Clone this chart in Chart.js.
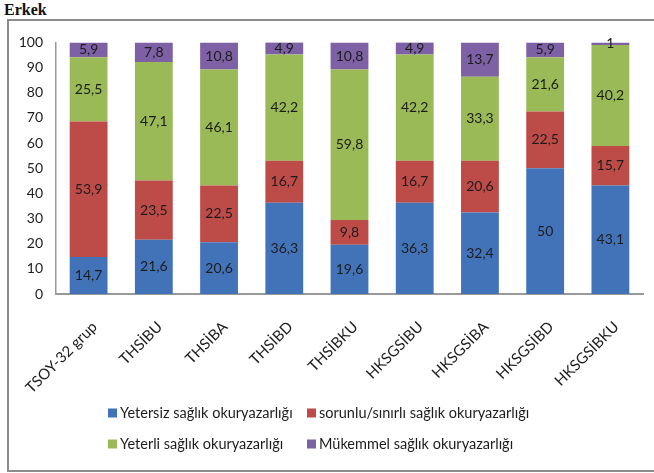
<!DOCTYPE html>
<html>
<head>
<meta charset="utf-8">
<script src="https://cdn.jsdelivr.net/npm/chart.js@4/dist/chart.umd.min.js"></script>
<style>
  html, body { margin: 0; padding: 0; background: #fff; }
  body { width: 654px; height: 473px; position: relative; overflow: hidden; }
  #title { position: absolute; left: 4px; top: 1px; font-family: "Liberation Serif", "DejaVu Serif", serif; font-weight: bold; font-size: 16px; color: #111; }
  #frame { position: absolute; left: 7px; top: 19px; width: 670px; height: 449px; border: 2px solid #8c8c8c; }
  #wrap { position: absolute; left: 9px; top: 21px; width: 645px; height: 449px; }
</style>
</head>
<body>
<div id="title">Erkek</div>
<div id="frame"></div>
<div id="wrap"><canvas id="c" width="645" height="449"></canvas></div>
<script>
const categories = ["TSOY-32 grup", "THSİBU", "THSİBA", "THSİBD", "THSİBKU", "HKSGSİBU", "HKSGSİBA", "HKSGSİBD", "HKSGSİBKU"];
const seriesNames = ["Yetersiz sağlık okuryazarlığı", "sorunlu/sınırlı sağlık okuryazarlığı", "Yeterli sağlık okuryazarlığı", "Mükemmel sağlık okuryazarlığı"];
const yetersiz = [14.7, 21.6, 20.6, 36.3, 19.6, 36.3, 32.4, 50, 43.1];
const sorunlu  = [53.9, 23.5, 22.5, 16.7, 9.8, 16.7, 20.6, 22.5, 15.7];
const yeterli  = [25.5, 47.1, 46.1, 42.2, 59.8, 42.2, 33.3, 21.6, 40.2];
const mukemmel = [5.9, 7.8, 10.8, 4.9, 10.8, 4.9, 13.7, 5.9, 1];
const yTicks = [0, 10, 20, 30, 40, 50, 60, 70, 80, 90, 100];
const colors = ["#4273b9", "#bd4b48", "#99ba56", "#7e60a4"];

const FONT = "Lato, 'Open Sans', sans-serif";

const dataLabels = {
  id: "dataLabels",
  afterDatasetsDraw(chart) {
    const ctx = chart.ctx;
    ctx.save();
    ctx.font = "14px " + FONT;
    ctx.fillStyle = "#1c1c1c";
    ctx.textAlign = "center";
    ctx.textBaseline = "middle";
    chart.data.datasets.forEach((ds, di) => {
      const meta = chart.getDatasetMeta(di);
      meta.data.forEach((bar, i) => {
        const v = ds.data[i];
        const yMid = (bar.y + bar.base) / 2;
        ctx.fillText(String(v).replace(".", ","), bar.x, yMid);
      });
    });
    ctx.restore();
  }
};

const customLegend = {
  id: "customLegend",
  afterDraw(chart) {
    const ctx = chart.ctx;
    ctx.save();
    ctx.font = "14.5px " + FONT;
    ctx.textBaseline = "middle";
    ctx.textAlign = "left";
    const colX = [99, 298];
    const rowY = [392, 423];
    chart.data.datasets.forEach((ds, di) => {
      const x = colX[di % 2];
      const y = rowY[Math.floor(di / 2)];
      ctx.fillStyle = ds.backgroundColor;
      ctx.fillRect(x, y - 4.5, 9, 9);
      ctx.fillStyle = "#1c1c1c";
      ctx.fillText(ds.label, x + 12, y);
    });
    ctx.restore();
  }
};

new Chart(document.getElementById("c"), {
  type: "bar",
  data: {
    labels: categories,
    datasets: [
      { label: seriesNames[0], data: yetersiz, backgroundColor: colors[0] },
      { label: seriesNames[1], data: sorunlu, backgroundColor: colors[1] },
      { label: seriesNames[2], data: yeterli, backgroundColor: colors[2] },
      { label: seriesNames[3], data: mukemmel, backgroundColor: colors[3] }
    ]
  },
  options: {
    responsive: false,
    animation: false,
    layout: { padding: { left: 0, right: 11, top: 16, bottom: 0 } },
    datasets: { bar: { barPercentage: 0.58, categoryPercentage: 1.0 } },
    plugins: { legend: { display: false }, tooltip: { enabled: false }, title: { display: false } },
    scales: {
      x: {
        stacked: true,
        grid: { display: false, drawTicks: false },
        border: { display: true, color: "#999", width: 2 },
        ticks: { color: "#1c1c1c", font: { family: FONT, size: 15 }, minRotation: 45, maxRotation: 45, padding: 24, labelOffset: 6 },
        afterFit(scale) { scale.height = 176; scale.paddingLeft = 0; scale.paddingRight = 0; }
      },
      y: {
        stacked: true,
        min: 0, max: 100,
        afterBuildTicks(scale) { scale.ticks = yTicks.map(v => ({ value: v })); },
        grid: { display: false, drawTicks: false },
        border: { display: true, color: "#999", width: 1.5 },
        ticks: { color: "#1c1c1c", font: { family: FONT, size: 14 }, padding: 13 },
        afterFit(scale) { scale.width = 47; }
      }
    }
  },
  plugins: [dataLabels, customLegend]
});
</script>
</body>
</html>
